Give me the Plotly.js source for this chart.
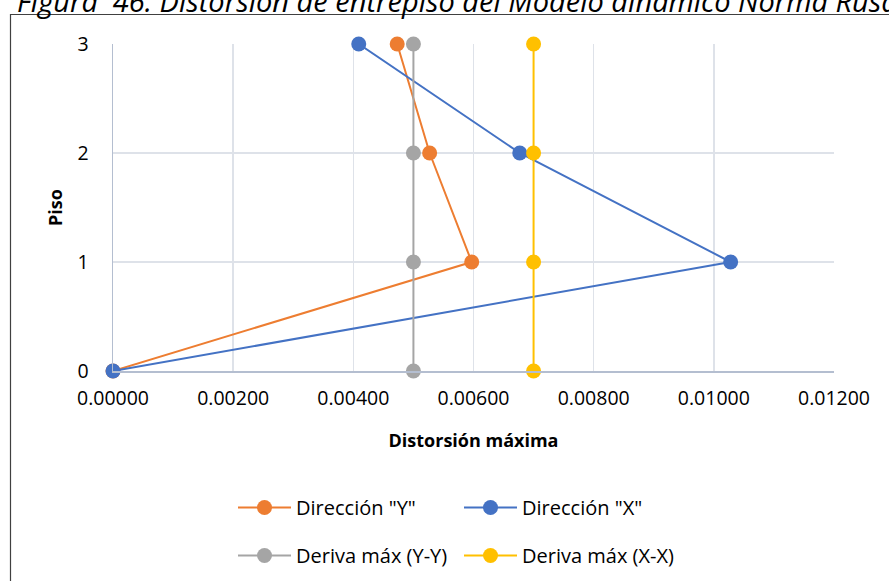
<!DOCTYPE html>
<html>
<head>
<meta charset="utf-8">
<script src="https://cdn.plot.ly/plotly-3.0.1.min.js"></script>
<style>html,body{margin:0;padding:0;background:#fff;}#chart{width:889px;height:581px;}</style>
</head>
<body>
<div id="chart"></div>
<script>
const pisos = [0, 1, 2, 3];
const dirY = [0.00000, 0.00597, 0.00527, 0.00473];
const dirX = [0.00000, 0.01028, 0.00677, 0.00409];
const derivaYY = [0.005, 0.005, 0.005, 0.005];
const derivaXX = [0.007, 0.007, 0.007, 0.007];
const names = ['Dirección "Y"', 'Dirección "X"', 'Deriva máx (Y-Y)', 'Deriva máx (X-X)'];
const colors = ['#ED7D31', '#4472C4', '#A5A5A5', '#FFC000'];
const xTicks = [0, 0.002, 0.004, 0.006, 0.008, 0.010, 0.012];
const yTicks = [0, 1, 2, 3];

const FONT = 'Open Sans, sans-serif';
const series = [dirY, dirX, derivaYY, derivaXX];
const legends = ['legend', 'legend', 'legend2', 'legend2'];
const traces = series.map((s, i) => ({
  type: 'scatter', mode: 'lines+markers',
  x: s, y: pisos, name: names[i],
  line: {color: colors[i], width: 2},
  marker: {color: colors[i], size: 15},
  legend: legends[i],
  cliponaxis: false
}));

const L = 113, R = 834, T = 44, B = 371;
const pw = R - L, ph = B - T;
const px = v => (v - L) / pw;
const py = v => (B - v) / ph;

const legendBase = {
  orientation: 'h', x: px(233), xanchor: 'left', yanchor: 'top',
  itemwidth: 53, entrywidth: 158, entrywidthmode: 'pixels',
  font: {family: FONT, size: 20}, bgcolor: 'rgba(0,0,0,0)'
};

const layout = {
  width: 889, height: 581,
  margin: {l: L, r: 889 - R, t: T, b: 581 - B, autoexpand: false},
  paper_bgcolor: '#fff', plot_bgcolor: '#fff',
  font: {family: FONT, size: 20, color: '#000'},
  showlegend: true,
  xaxis: {
    range: [0, 0.012], tickvals: xTicks, tickformat: '.5f',
    showgrid: true, gridcolor: '#DEE2E9', gridwidth: 1.5,
    zeroline: false, showline: true, linecolor: '#B4BED0', linewidth: 1.5,
    ticks: '', ticklabelstandoff: 9,
    tickfont: {family: FONT, size: 19.5},
    title: {text: '<b>Distorsión máxima</b>', font: {family: FONT, size: 18}, standoff: 24}
  },
  yaxis: {
    range: [0, 3], tickvals: yTicks,
    showgrid: true, gridcolor: '#DEE2E9', gridwidth: 1.5,
    zeroline: false, showline: true, linecolor: '#B4BED0', linewidth: 1.5,
    ticks: '', ticklabelstandoff: 19,
    tickfont: {family: FONT, size: 19.5},
    title: {text: '<b>Piso</b>', font: {family: FONT, size: 18}, standoff: 10}
  },
  legend: Object.assign({}, legendBase, {y: py(488)}),
  legend2: Object.assign({}, legendBase, {y: py(536)}),
  shapes: [{
    type: 'rect', xref: 'paper', yref: 'paper',
    x0: px(10.5), x1: px(900), y0: py(14.5), y1: py(600),
    line: {color: '#404040', width: 1.2}, fillcolor: 'rgba(0,0,0,0)', layer: 'below'
  }],
  annotations: [{
    text: '<i>Figura  46: Distorsión de entrepiso del Modelo dinámico Norma Rusa</i>',
    xref: 'paper', yref: 'paper', x: px(15), xanchor: 'left',
    y: py(22), yanchor: 'bottom', showarrow: false,
    font: {family: FONT, size: 29, color: '#000'}
  }]
};

Plotly.newPlot('chart', traces, layout, {displayModeBar: false, staticPlot: true});
</script>
</body>
</html>
